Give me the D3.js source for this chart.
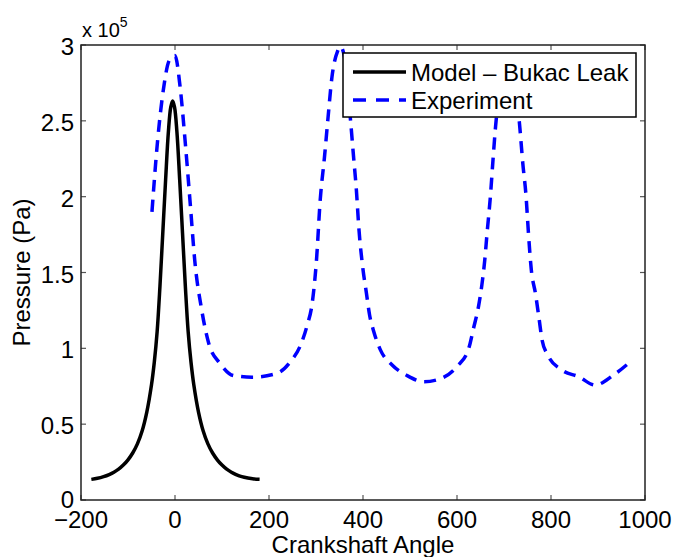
<!DOCTYPE html>
<html><head><meta charset="utf-8">
<script src="https://cdn.jsdelivr.net/npm/d3@7/dist/d3.min.js"></script>
<style>body{margin:0;background:#fff}svg{display:block}text{font-family:"Liberation Sans",Arial,sans-serif;fill:#000}</style>
</head><body><svg id="c" width="673" height="557"></svg>
<script>
// Data (pressure in units of 1e5 Pa)
const modelAngle = [-178,-165,-152,-140,-130,-120,-110,-100,-90,-80,-70,-60,-50,-44,-38,-32,-26,-20,-14,-9,-5,-1,4,10,16,22,28,34,40,50,60,70,80,90,100,110,120,130,142,155,168,180];
const modelP     = [0.136,0.143,0.154,0.168,0.183,0.203,0.23,0.265,0.31,0.37,0.455,0.58,0.76,0.91,1.11,1.41,1.76,2.11,2.43,2.59,2.63,2.59,2.43,2.11,1.76,1.41,1.11,0.91,0.76,0.58,0.455,0.37,0.31,0.265,0.23,0.203,0.183,0.168,0.154,0.145,0.139,0.137];
const expAngle = [-49,-37,-25,-12,0,11,22,33,42,57,72,96,125,164,217,245,267,281,292,301,309,318,325,334,346,352,360,373,380,386,391,400,407,414,423,437,462,494,529,565,600,625,635,646,653,659,664,671,677,682,690,708,726,733,740,747,752,758,767,774,781,793,823,859,894,933,969];
const expP     = [1.90,2.37,2.70,2.90,2.93,2.72,2.35,1.93,1.58,1.25,1.03,0.90,0.82,0.81,0.835,0.91,1.02,1.15,1.30,1.58,1.98,2.26,2.50,2.79,2.96,2.99,2.93,2.52,2.26,2.04,1.80,1.52,1.37,1.22,1.11,0.99,0.89,0.82,0.78,0.80,0.88,1.00,1.13,1.28,1.42,1.58,1.76,2.00,2.26,2.46,2.68,2.85,2.68,2.48,2.22,2.00,1.76,1.52,1.36,1.21,1.055,0.956,0.857,0.813,0.758,0.824,0.912];
const xTicks = [-200,0,200,400,600,800,1000];
const yTicks = [0,0.5,1,1.5,2,2.5,3];
const yTickLabels = ["0","0.5","1","1.5","2","2.5","3"];
const seriesNames = ["Model \u2013 Bukac Leak","Experiment"];

const svg = d3.select("#c");
const L=81, R=645, T=45, B=500;
const x = d3.scaleLinear().domain([-200,1000]).range([L,R]);
const y = d3.scaleLinear().domain([0,3]).range([B,T]);

svg.append("defs").append("clipPath").attr("id","clip").append("rect")
  .attr("x",L).attr("y",T).attr("width",R-L).attr("height",B-T);

// ticks (inward, all four sides)
const tk = svg.append("g").attr("stroke","#555").attr("stroke-width",1.2);
xTicks.forEach(v=>{
  tk.append("line").attr("x1",x(v)).attr("x2",x(v)).attr("y1",B).attr("y2",B-5);
  tk.append("line").attr("x1",x(v)).attr("x2",x(v)).attr("y1",T).attr("y2",T+5);
});
yTicks.forEach(v=>{
  tk.append("line").attr("x1",L).attr("x2",L+5).attr("y1",y(v)).attr("y2",y(v));
  tk.append("line").attr("x1",R).attr("x2",R-5).attr("y1",y(v)).attr("y2",y(v));
});

// data lines
const g = svg.append("g").attr("clip-path","url(#clip)");
const lineExp = d3.line().x(d=>x(d[0])).y(d=>y(d[1])).curve(d3.curveMonotoneX);
const lineMod = d3.line().x(d=>x(d[0])).y(d=>y(d[1])).curve(d3.curveCatmullRom.alpha(0.5));
g.append("path").datum(expAngle.map((a,i)=>[a,expP[i]])).attr("d",lineExp)
  .attr("fill","none").attr("stroke","#0000ff").attr("stroke-width",3.5).attr("stroke-dasharray","12,8");
g.append("path").datum(modelAngle.map((a,i)=>[a,modelP[i]])).attr("d",lineMod)
  .attr("fill","none").attr("stroke","#000").attr("stroke-width",3.5);

// box
svg.append("rect").attr("x",L).attr("y",T).attr("width",R-L).attr("height",B-T)
  .attr("fill","none").attr("stroke","#222").attr("stroke-width",1.5);

// tick labels
xTicks.forEach(v=>{
  svg.append("text").attr("x",x(v)).attr("y",528).attr("text-anchor","middle")
    .attr("font-size",24).text(v<0?"\u2212"+Math.abs(v):String(v));
});
yTicks.forEach((v,i)=>{
  svg.append("text").attr("x",74).attr("y",y(v)+(v===0?8:10)).attr("text-anchor","end")
    .attr("font-size",24).text(yTickLabels[i]);
});
// exponent
const ex = svg.append("text").attr("x",82).attr("y",37).attr("font-size",20);
ex.append("tspan").text("x 10");
ex.append("tspan").attr("font-size",14).attr("dy",-10).text("5");

// axis labels
svg.append("text").attr("x",(L+R)/2).attr("y",553).attr("text-anchor","middle").attr("font-size",24).text("Crankshaft Angle");
svg.append("text").attr("transform",`translate(30,${(T+B)/2}) rotate(-90)`).attr("text-anchor","middle").attr("font-size",24).text("Pressure (Pa)");

// legend
const lg = svg.append("g");
lg.append("rect").attr("x",343).attr("y",53).attr("width",293).attr("height",64)
  .attr("fill","#fff").attr("stroke","#000").attr("stroke-width",1.5);
lg.append("line").attr("x1",353).attr("x2",406).attr("y1",72).attr("y2",72).attr("stroke","#000").attr("stroke-width",3.5);
lg.append("line").attr("x1",353).attr("x2",406).attr("y1",100).attr("y2",100).attr("stroke","#0000ff").attr("stroke-width",3.5).attr("stroke-dasharray","13,10");
lg.append("text").attr("x",411).attr("y",80.5).attr("font-size",24).text(seriesNames[0]);
lg.append("text").attr("x",411).attr("y",108.5).attr("font-size",24).text(seriesNames[1]);
</script></body></html>
